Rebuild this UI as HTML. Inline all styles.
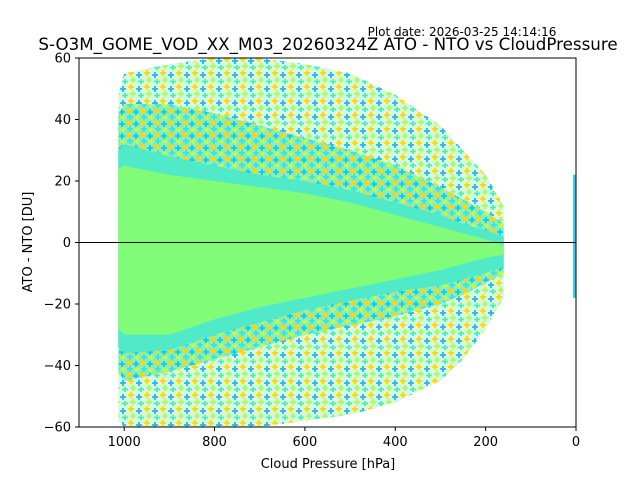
<!DOCTYPE html>
<html><head><meta charset="utf-8"><style>
body{margin:0;background:#fff;font-family:"Liberation Sans","DejaVu Sans",sans-serif}
svg text{font-family:"DejaVu Sans","Liberation Sans",sans-serif}
</style></head><body>
<svg id="chart" width="640" height="480" viewBox="0 0 640 480">
<defs>
<pattern id="mix" width="14" height="12" patternUnits="userSpaceOnUse">
<rect width="14" height="12" fill="#90eab8"/>
<path d="M3 0v6M0 3h6" stroke="#ffd700" stroke-width="1.8"/>
<path d="M10 1v6M7 4h6" stroke="#00d0f0" stroke-width="1.8"/>
<path d="M4 6v6M1 9h6" stroke="#30e8e0" stroke-width="1.8"/>
<path d="M11 7v5M8 9.5h6" stroke="#c0ff40" stroke-width="1.8"/>
</pattern>
<pattern id="mix2" width="16" height="14" patternUnits="userSpaceOnUse">
<rect width="16" height="14" fill="#d8f8d8"/>
<path d="M3 0v6M0 3h6" stroke="#ffd700" stroke-width="1.8"/>
<path d="M11 2v6M8 5h6" stroke="#20b8f8" stroke-width="1.8"/>
<path d="M5 7v6M2 10h6" stroke="#a0ff60" stroke-width="1.8"/>
<path d="M13 9v5M10 11.5h6" stroke="#40f0c0" stroke-width="1.8"/>
</pattern>
<clipPath id="plotclip"><rect x="79" y="58" width="497" height="369"/></clipPath>
</defs>
<text x="462" y="36" font-size="12" text-anchor="middle">Plot date: 2026-03-25 14:14:16</text>
<text x="328" y="50" font-size="16.7" text-anchor="middle">S-O3M_GOME_VOD_XX_M03_20260324Z ATO - NTO vs CloudPressure</text>
<g id="plot" clip-path="url(#plotclip)"></g>
<rect x="79" y="58" width="497" height="369" fill="none" stroke="#000" stroke-width="1"/>
<g id="axes"></g>
<text x="328" y="468" font-size="13" text-anchor="middle">Cloud Pressure [hPa]</text>
<text transform="translate(32,242) rotate(-90)" font-size="13" text-anchor="middle">ATO - NTO [DU]</text>
</svg>
<script>
const pressure = [1013, 1000, 900, 800, 700, 600, 500, 400, 300, 250, 200, 160];
const outerTop = [48, 55, 58, 60, 60, 58, 55, 48, 38, 30, 22, 12];
const outerBot = [-58, -60, -60, -60, -60, -58, -56, -52, -45, -38, -28, -18];
const innerTop = [42, 45, 45, 42, 38, 34, 30, 25, 18, 14, 10, 6];
const innerBot = [-42, -45, -42, -38, -34, -30, -27, -24, -20, -17, -13, -10];
const cyanTop = [30, 32, 28, 25, 22, 20, 17, 13, 9, 6, 4, 2];
const cyanBot = [-34, -36, -35, -30, -26, -22, -19, -16, -14, -12, -10, -8];
const greenTop = [24, 25, 22, 20, 18, 16, 13, 9, 5, 3, 1, -1];
const greenBot = [-28, -30, -30, -25, -21, -18, -15, -12, -9, -7, -5, -4];
const edgeTop = 22;
const edgeBot = -18;
const xTicks = [1000, 800, 600, 400, 200, 0];
const yTicks = [-60, -40, -20, 0, 20, 40, 60];

const NS = "http://www.w3.org/2000/svg";
const X = p => 79 + (1100 - p) / 1100 * 497;
const Y = v => 242.5 - v / 60 * 184.5;
const plot = document.getElementById('plot');
const axes = document.getElementById('axes');

function band(top, bot, fill, name) {
  let pts = pressure.map((p, i) => X(p) + ',' + Y(top[i]));
  pts = pts.concat(pressure.map((p, i) => X(p) + ',' + Y(bot[i])).reverse());
  const pg = document.createElementNS(NS, 'polygon');
  pg.setAttribute('points', pts.join(' '));
  pg.setAttribute('fill', fill);
  
  
  plot.appendChild(pg);
}
band(outerTop, outerBot, 'url(#mix2)', 'outer-scatter-band');
band(innerTop, innerBot, 'url(#mix)', 'inner-scatter-band');
band(cyanTop, cyanBot, '#50eac8', 'cyan-scatter-band');
band(greenTop, greenBot, '#80fc78', 'green-scatter-core');

const er = document.createElementNS(NS, 'rect');
er.setAttribute('x', X(0) - 3); er.setAttribute('width', 3);
er.setAttribute('y', Y(edgeTop)); er.setAttribute('height', Y(edgeBot) - Y(edgeTop));
er.setAttribute('fill', '#20d8f0');


plot.appendChild(er);

const zl = document.createElementNS(NS, 'line');
zl.setAttribute('x1', 79); zl.setAttribute('x2', 576);
zl.setAttribute('y1', Y(0)); zl.setAttribute('y2', Y(0));
zl.setAttribute('stroke', '#000'); zl.setAttribute('stroke-width', '1');


plot.appendChild(zl);

xTicks.forEach(t => {
  const l = document.createElementNS(NS, 'line');
  l.setAttribute('x1', X(t)); l.setAttribute('x2', X(t));
  l.setAttribute('y1', 427); l.setAttribute('y2', 431);
  l.setAttribute('stroke', '#000');
  
  
  axes.appendChild(l);
  const tx = document.createElementNS(NS, 'text');
  tx.setAttribute('x', X(t)); tx.setAttribute('y', 446);
  tx.setAttribute('font-size', '13'); tx.setAttribute('text-anchor', 'middle');
  tx.textContent = t;
  
  
  axes.appendChild(tx);
});
yTicks.forEach(t => {
  const l = document.createElementNS(NS, 'line');
  l.setAttribute('x1', 75); l.setAttribute('x2', 79);
  l.setAttribute('y1', Y(t)); l.setAttribute('y2', Y(t));
  l.setAttribute('stroke', '#000');
  
  
  axes.appendChild(l);
  const tx = document.createElementNS(NS, 'text');
  tx.setAttribute('x', 71); tx.setAttribute('y', Y(t) + 4.5);
  tx.setAttribute('font-size', '13'); tx.setAttribute('text-anchor', 'end');
  tx.textContent = t === 0 ? '0' : (t < 0 ? '\u2212' + (-t) : t);
  
  
  axes.appendChild(tx);
});
</script>
</body></html>
